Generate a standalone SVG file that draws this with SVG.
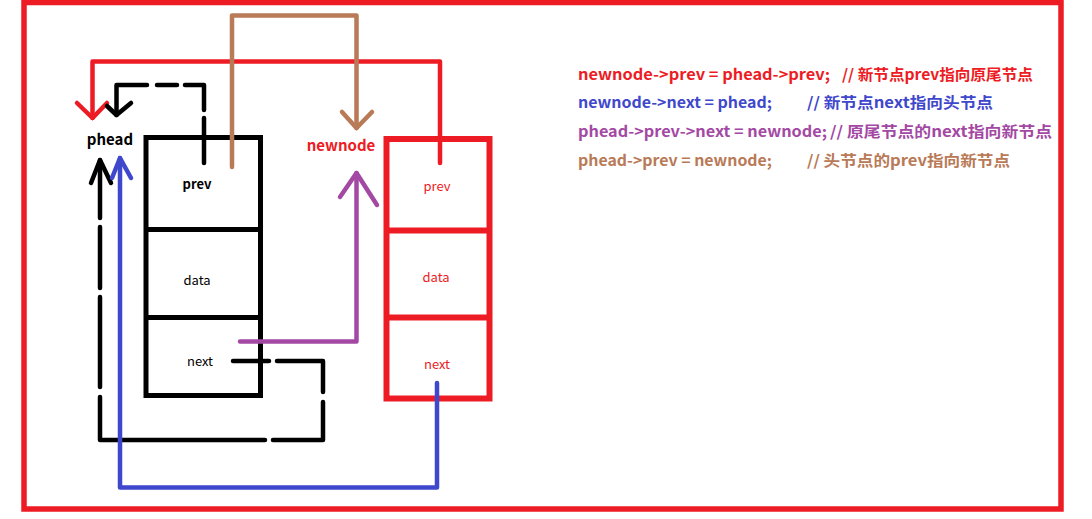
<svg xmlns="http://www.w3.org/2000/svg" width="1092" height="519" viewBox="0 0 1092 519">
<style>
.ln{fill:none;stroke-linecap:round;stroke-linejoin:round;stroke-width:4.5}
.k{stroke:#000}.r{stroke:#ED1C24}.b{stroke:#3F48CC}.p{stroke:#A349A4}.o{stroke:#B97A57}
.lbl{font-family:"Noto Sans CJK SC","Noto Sans",sans-serif;font-size:13px;text-anchor:middle}
.big{font-family:"Noto Sans CJK SC","Noto Sans",sans-serif;font-size:15px;font-weight:bold;text-anchor:middle}
.code{font-family:"Noto Sans CJK SC","Noto Sans",sans-serif;font-size:15px;font-weight:bold}
</style>
<rect x="0" y="0" width="1092" height="519" fill="#fff"/>
<rect x="24" y="2.5" width="1037" height="506.5" fill="none" stroke="#ED1C24" stroke-width="5.5"/>

<g id="phead-label"><text class="big" x="110" y="145" fill="#000">phead</text></g>
<g id="newnode-label"><text class="big" x="341" y="151" fill="#ED1C24">newnode</text></g>

<g id="phead-node">
<rect x="146" y="137.5" width="114.5" height="258" fill="none" stroke="#000" stroke-width="5"/>
<line x1="146" y1="229.5" x2="260.5" y2="229.5" stroke="#000" stroke-width="5"/>
<line x1="146" y1="317.5" x2="260.5" y2="317.5" stroke="#000" stroke-width="5"/>
<text class="lbl" x="197" y="189" fill="#000" font-weight="bold">prev</text>
<text class="lbl" x="197" y="285" fill="#000">data</text>
<text class="lbl" x="200" y="366" fill="#000">next</text>
</g>

<g id="newnode-node">
<rect x="386.5" y="139" width="103" height="259.5" fill="none" stroke="#ED1C24" stroke-width="6"/>
<line x1="386.5" y1="230.5" x2="489.5" y2="230.5" stroke="#ED1C24" stroke-width="6"/>
<line x1="386.5" y1="317.5" x2="489.5" y2="317.5" stroke="#ED1C24" stroke-width="6"/>
<text class="lbl" x="437" y="191" fill="#ED1C24">prev</text>
<text class="lbl" x="436" y="282" fill="#ED1C24">data</text>
<text class="lbl" x="437" y="369" fill="#ED1C24">next</text>
</g>

<g id="connectors">
<!-- red: newnode prev -> phead -->
<path class="ln r" d="M440,163 V61.5 H92.5 V118"/>
<path class="ln r" d="M77,103 L92.5,118 L107,103"/>
<!-- brown: phead prev -> newnode -->
<path class="ln o" d="M232,167 V15.5 H356.5 V128"/>
<path class="ln o" d="M342,112 L356.5,128 L372,112"/>
<!-- black dashed: phead prev (old) -->
<path class="ln k" d="M204,163 V118 M204,110 V85 H185 M177,85 H157 M147,85 H116.5 V115"/>
<path class="ln k" d="M107,106 L116.5,115 L131,103"/>
<!-- purple: old tail next -> newnode -->
<path class="ln p" d="M240,341.5 H356.5 V173"/>
<path class="ln p" d="M340,197 L356.5,173 L377,205"/>
<!-- black dashed: next -> phead (old) -->
<path class="ln k" d="M233,361 H269 M277,361 H323 V392 M323,402 V440 H273 M265,440 H100 V397 M100,387 V297 M100,288 V227 M100,218 V160"/>
<path class="ln k" d="M91,183 L100,160 L111,183"/>
<!-- blue: newnode next -> phead -->
<path class="ln b" d="M437,383 V487.5 H120 V158"/>
<path class="ln b" d="M112,178 L120,158 L131,178"/>
</g>

<g id="code">
<text class="code" x="578" y="80" fill="#ED1C24" textLength="252" lengthAdjust="spacingAndGlyphs">newnode-&gt;prev = phead-&gt;prev;</text>
<text class="code" x="842" y="80" fill="#ED1C24" textLength="191" lengthAdjust="spacingAndGlyphs">// 新节点prev指向原尾节点</text>
<text class="code" x="578" y="108" fill="#3F48CC" textLength="194" lengthAdjust="spacingAndGlyphs">newnode-&gt;next = phead;</text>
<text class="code" x="807" y="108" fill="#3F48CC" textLength="186" lengthAdjust="spacingAndGlyphs">// 新节点next指向头节点</text>
<text class="code" x="578" y="137" fill="#A349A4" textLength="249" lengthAdjust="spacingAndGlyphs">phead-&gt;prev-&gt;next = newnode;</text>
<text class="code" x="830" y="137" fill="#A349A4" textLength="222" lengthAdjust="spacingAndGlyphs">// 原尾节点的next指向新节点</text>
<text class="code" x="578" y="166" fill="#B97A57" textLength="194" lengthAdjust="spacingAndGlyphs">phead-&gt;prev = newnode;</text>
<text class="code" x="807" y="166" fill="#B97A57" textLength="203" lengthAdjust="spacingAndGlyphs">// 头节点的prev指向新节点</text>
</g>
</svg>
